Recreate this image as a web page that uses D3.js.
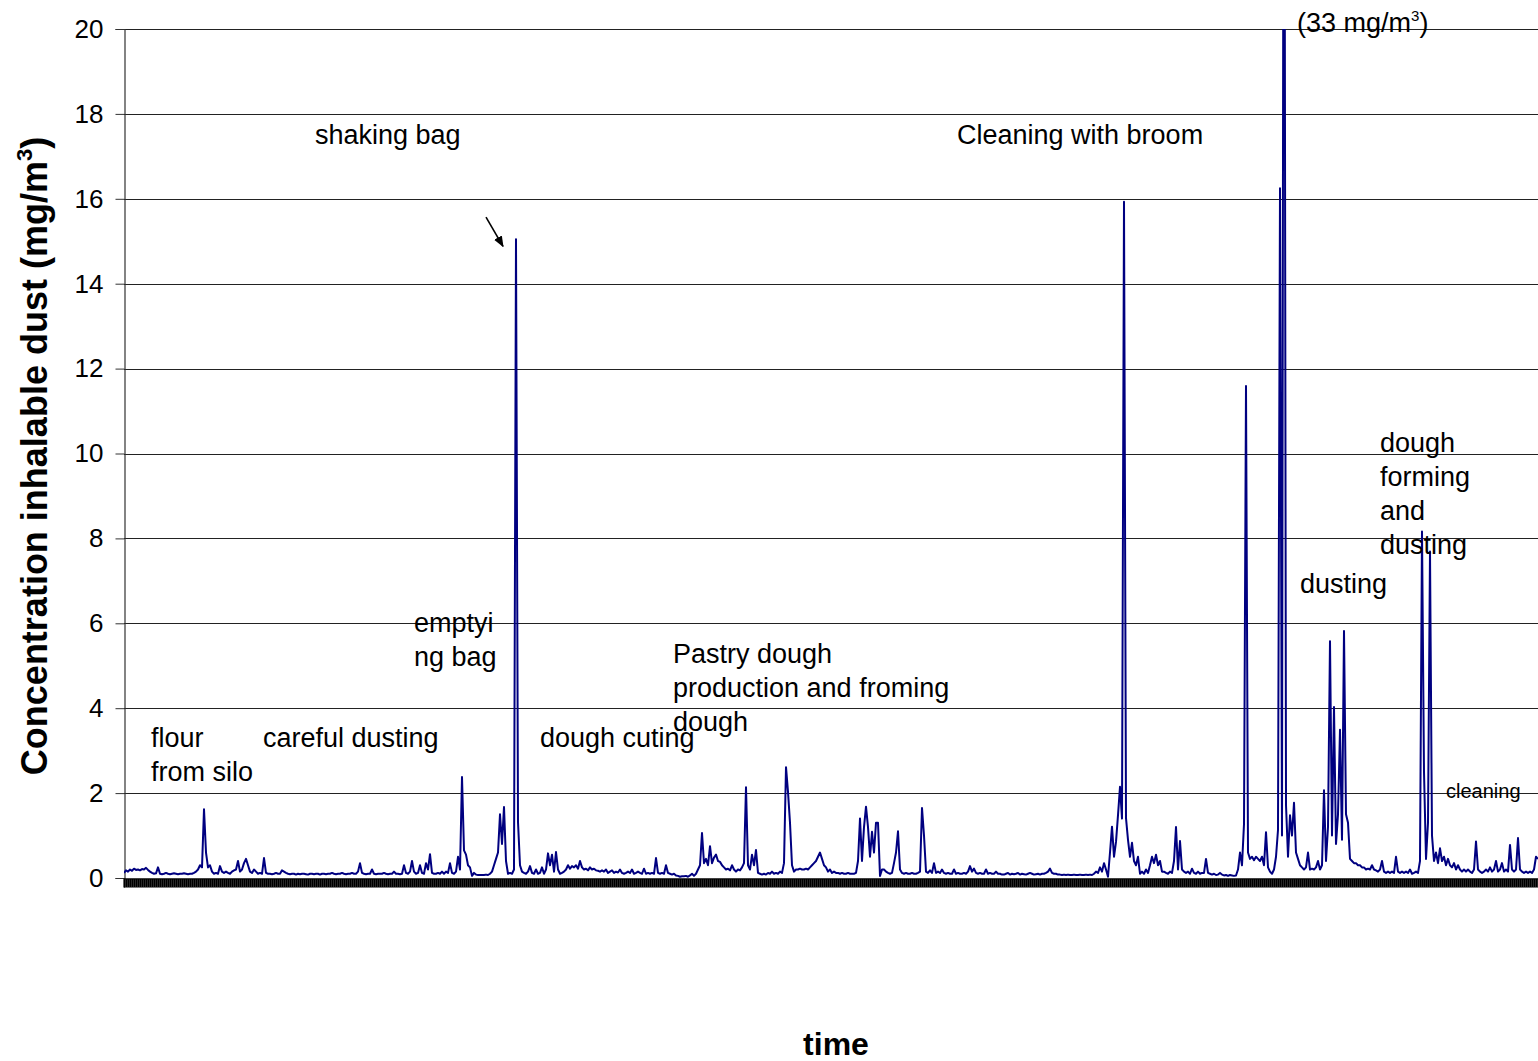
<!DOCTYPE html>
<html>
<head>
<meta charset="utf-8">
<script src="https://cdn.jsdelivr.net/npm/d3@7"></script>
<style>
  html, body { margin: 0; padding: 0; background: #fff; }
  svg { display: block; font-family: "Liberation Sans", Arial, sans-serif; }
  .grid line { stroke: #222; stroke-width: 1; shape-rendering: crispEdges; }
  .note { font-size: 27px; fill: #000; }
</style>
</head>
<body>
<div id="chart"></div>
<script>
// Inhalable dust readings, one sample per time step
const siloPart = [
  0.12,0.18,0.15,0.2,0.17,0.22,0.19,0.2,0.18,0.21,0.2,0.24,0.19,0.15,0.12,0.1,0.11,0.25,0.1,0.09,
  0.1,0.12,0.1,0.09,0.1,0.11,0.1,0.09,0.1,0.1,0.11,0.1,0.09,0.1,0.1,0.12,0.15,0.2,0.3,0.25,
  1.62,0.6,0.25,0.3,0.15,0.1,0.12,0.1,0.28,0.15,0.12,0.15,0.12,0.1,0.15,0.18,0.2,0.4,0.15,0.2,
  0.35,0.45,0.3,0.15,0.12,0.2,0.15,0.1,0.12,0.1,0.47,0.12,0.1,0.1,0.09,0.1,0.12,0.1,0.1,0.18,
  0.15,0.12,0.1,0.09,0.1,0.1,0.08,0.1,0.09,0.1,0.1,0.09,0.08,0.1,0.1,0.09,0.1,0.1,0.08,0.1
];
const dustingPart = [
  0.1,0.09,0.1,0.1,0.12,0.1,0.09,0.1,0.1,0.12,0.1,0.09,0.1,0.1,0.12,0.1,0.1,0.15,0.35,0.12,
  0.1,0.09,0.1,0.1,0.2,0.1,0.09,0.1,0.1,0.1,0.12,0.1,0.09,0.1,0.1,0.15,0.1,0.1,0.09,0.1,
  0.3,0.12,0.1,0.15,0.4,0.15,0.1,0.12,0.3,0.12,0.1,0.35,0.2,0.56,0.12,0.1,0.1,0.12,0.1,0.15,
  0.1,0.15,0.12,0.35,0.12,0.1,0.15,0.5,0.2,2.38,0.65,0.55,0.3,0.25,0.05,0.12,0.08,0.07,0.07,0.07
];
const bagPart = [
  0.07,0.08,0.07,0.1,0.15,0.3,0.45,0.6,1.5,0.8,1.67,0.4,0.1,0.12,0.1,0.2,15.05,1.32,0.3,0.15,
  0.12,0.1,0.15,0.28,0.12,0.1,0.2,0.1,0.12,0.25,0.1,0.2,0.58,0.3,0.55,0.15,0.61,0.2,0.1,0.12,
  0.15,0.2,0.3,0.22,0.28,0.25,0.3,0.22,0.4,0.25,0.2,0.22,0.18,0.25,0.2,0.22,0.18,0.17,0.15,0.18,
  0.15,0.2,0.12,0.15,0.18,0.12,0.15,0.13,0.2,0.12,0.1,0.12,0.15,0.12,0.2,0.1,0.12,0.15,0.12,0.1
];
const pastryPart = [
  0.22,0.1,0.12,0.1,0.12,0.1,0.47,0.12,0.1,0.12,0.1,0.3,0.12,0.1,0.08,0.1,0.06,0.05,0.03,0.04,
  0.04,0.05,0.03,0.06,0.1,0.05,0.1,0.2,0.3,1.06,0.35,0.45,0.3,0.75,0.35,0.48,0.55,0.4,0.38,0.3,
  0.25,0.2,0.22,0.18,0.3,0.2,0.15,0.2,0.18,0.25,0.35,2.14,0.3,0.2,0.55,0.3,0.66,0.12,0.1,0.08,
  0.1,0.08,0.12,0.1,0.15,0.1,0.12,0.1,0.15,0.12,0.35,2.61,2.03,1.3,0.3,0.15,0.2,0.2,0.22,0.2,
  0.2,0.22,0.2,0.25,0.3,0.35,0.4,0.5,0.6,0.45,0.3,0.25,0.15,0.2,0.12,0.15,0.12,0.12,0.1,0.12,
  0.1,0.1,0.12,0.1,0.1,0.1,0.12,0.4,1.4,0.4,1.2,1.68,1.2,0.5,1.09,0.6,1.3,1.3,0.05,0.2,
  0.2,0.15,0.12,0.1,0.12,0.35,0.6,1.1,0.2,0.12,0.1,0.12,0.1,0.1,0.12,0.1,0.1,0.12,0.15,1.65
];
const broomPart = [
  1.0,0.15,0.12,0.18,0.12,0.35,0.12,0.15,0.12,0.2,0.12,0.1,0.12,0.1,0.1,0.2,0.1,0.12,0.1,0.1,
  0.12,0.1,0.15,0.28,0.15,0.22,0.12,0.1,0.12,0.1,0.1,0.2,0.1,0.12,0.1,0.1,0.15,0.1,0.1,0.08,
  0.08,0.1,0.12,0.08,0.1,0.09,0.1,0.12,0.08,0.1,0.09,0.08,0.1,0.12,0.1,0.08,0.09,0.1,0.08,0.1,
  0.1,0.12,0.15,0.22,0.12,0.1,0.1,0.08,0.08,0.07,0.08,0.07,0.08,0.07,0.07,0.08,0.07,0.07,0.08,0.07,
  0.07,0.08,0.07,0.08,0.07,0.1,0.15,0.12,0.25,0.15,0.35,0.2,0.03,0.6,1.21,0.5,0.85,1.48,2.15,1.4,
  15.93,1.41,0.9,0.5,0.83,0.4,0.3,0.5,0.1,0.15,0.1,0.2,0.12,0.3,0.5,0.35,0.55,0.3,0.4,0.15,
  0.15,0.12,0.1,0.15,0.12,0.4,1.2,0.2,0.87,0.2,0.15,0.12,0.15,0.1,0.22,0.12,0.1,0.15,0.1,0.12
];
const formingPart = [
  0.12,0.45,0.12,0.1,0.08,0.1,0.07,0.08,0.12,0.08,0.06,0.07,0.05,0.07,0.06,0.05,0.06,0.2,0.6,0.3,
  1.27,11.59,0.6,0.45,0.5,0.42,0.5,0.45,0.4,0.5,0.3,1.08,0.25,0.15,0.1,0.2,0.5,1.13,16.25,1.0,
  33,1.72,0.5,1.48,1.0,1.77,0.6,0.45,0.3,0.25,0.2,0.25,0.6,0.2,0.22,0.2,0.25,0.4,0.2,0.3,
  2.07,0.4,1.2,5.58,1.0,4.03,0.8,1.5,3.49,0.9,5.82,1.5,1.3,0.45,0.4,0.35,0.35,0.3,0.3,0.25,
  0.25,0.2,0.22,0.2,0.3,0.2,0.18,0.15,0.2,0.4,0.15,0.12,0.15,0.12,0.15,0.12,0.5,0.15,0.12,0.15
];
const cleaningPart = [
  0.12,0.15,0.12,0.2,0.1,0.12,0.15,0.12,0.4,8.16,2.5,0.45,1.3,7.69,1.0,0.4,0.6,0.35,0.7,0.4,
  0.5,0.3,0.45,0.3,0.25,0.35,0.2,0.3,0.2,0.15,0.2,0.15,0.2,0.15,0.12,0.2,0.86,0.2,0.15,0.12,
  0.15,0.2,0.15,0.25,0.15,0.2,0.4,0.15,0.2,0.35,0.15,0.2,0.15,0.78,0.2,0.15,0.2,0.94,0.2,0.15,
  0.12,0.15,0.12,0.15,0.12,0.2,0.5,0.45
];

const conc = [].concat(siloPart, dustingPart, bagPart, pastryPart, broomPart, formingPart, cleaningPart);

const yTicks = [0, 2, 4, 6, 8, 10, 12, 14, 16, 18, 20];

// activity notes, anchored in data space (sample index, concentration)
const notes = [
  { lines: ['shaking bag'], i: 95.5, v: 17.3 },
  { lines: ['Cleaning with broom'], i: 416.5, v: 17.3 },
  { lines: ['emptyi', 'ng bag'], i: 145, v: 5.8 },
  { lines: ['Pastry dough', 'production and froming', 'dough'], i: 274.5, v: 5.07 },
  { lines: ['flour', 'from silo'], i: 13.5, v: 3.09 },
  { lines: ['careful dusting'], i: 69.5, v: 3.09 },
  { lines: ['dough cuting'], i: 208, v: 3.09 },
  { lines: ['dough', 'forming', 'and', 'dusting'], i: 628, v: 10.03 },
  { lines: ['dusting'], i: 588, v: 6.71 },
  { lines: ['cleaning'], i: 661, v: 1.89, small: true }
];

const width = 1538, height = 1061;
const margin = { top: 29, right: 0, bottom: 183, left: 124 };

const svg = d3.select('#chart').append('svg')
  .attr('width', width)
  .attr('height', height);

const x = d3.scaleLinear()
  .domain([0, conc.length - 1])
  .range([margin.left, width - margin.right]);

const y = d3.scaleLinear()
  .domain([0, 20])
  .range([height - margin.bottom, margin.top]);

// gridlines
svg.append('g')
  .attr('class', 'grid')
  .selectAll('line')
  .data(yTicks.filter(d => d > 0))
  .enter()
  .append('line')
  .attr('x1', margin.left)
  .attr('x2', width)
  .attr('y1', d => Math.round(y(d)) + 0.5)
  .attr('y2', d => Math.round(y(d)) + 0.5);

// y axis
const yAxis = svg.append('g')
  .attr('transform', `translate(${margin.left + 0.5},0)`)
  .call(d3.axisLeft(y).tickValues(yTicks).tickSize(9).tickPadding(12));
yAxis.select('.domain').attr('stroke', '#333').attr('stroke-width', 1.2);
yAxis.selectAll('.tick line').attr('stroke', '#333');
yAxis.selectAll('.tick text')
  .attr('font-size', 26)
  .attr('font-family', '"Liberation Sans", Arial, sans-serif')
  .attr('fill', '#000');

// the trace
svg.append('clipPath').attr('id', 'plot-clip')
  .append('rect')
  .attr('x', margin.left)
  .attr('y', margin.top)
  .attr('width', width - margin.left)
  .attr('height', height - margin.bottom - margin.top + 2);

const line = d3.line()
  .x((d, i) => x(i))
  .y(d => y(d));

svg.append('path')
  .datum(conc)
  .attr('clip-path', 'url(#plot-clip)')
  .attr('fill', 'none')
  .attr('stroke', '#000080')
  .attr('stroke-width', 2)
  .attr('stroke-linejoin', 'round')
  .attr('d', line);

// x axis: one tick per sample, which gives the dense black band
const xAxis = svg.append('g')
  .attr('transform', `translate(0,${height - margin.bottom + 0.5})`)
  .call(d3.axisBottom(x).tickValues(d3.range(0, conc.length)).tickSize(9).tickFormat(''));
xAxis.select('.domain').attr('stroke', '#000');
xAxis.selectAll('.tick line').attr('stroke', '#000').attr('stroke-width', 2.2);

// notes
const noteG = svg.append('g');
notes.forEach(n => {
  const t = noteG.append('text')
    .attr('class', 'note')
    .attr('x', x(n.i))
    .attr('y', y(n.v))
    .style('font-size', n.small ? '20px' : null);
  n.lines.forEach((s, k) => {
    t.append('tspan')
      .attr('x', x(n.i))
      .attr('dy', k === 0 ? 0 : 34)
      .text(s);
  });
});

// off-scale peak label
const peak = noteG.append('text')
  .attr('class', 'note')
  .attr('x', x(586.5))
  .attr('y', y(19.93));
peak.append('tspan').text('(33 mg/m');
peak.append('tspan').attr('font-size', 15).attr('dy', -11).text('3');
peak.append('tspan').attr('dy', 11).text(')');

// arrow pointing at the bag shaking peak
svg.append('defs').append('marker')
  .attr('id', 'arrowhead')
  .attr('viewBox', '0 0 10 10')
  .attr('refX', 9).attr('refY', 5)
  .attr('markerWidth', 7).attr('markerHeight', 7)
  .attr('orient', 'auto')
  .append('path')
  .attr('d', 'M0,1 L10,5 L0,9 Z')
  .attr('fill', '#000');

svg.append('line')
  .attr('x1', x(181)).attr('y1', y(15.57))
  .attr('x2', x(189.5)).attr('y2', y(14.88))
  .attr('stroke', '#000')
  .attr('stroke-width', 1.6)
  .attr('marker-end', 'url(#arrowhead)');

// axis titles
const yTitle = svg.append('text')
  .attr('transform', `translate(47,${(140 + 772) / 2}) rotate(-90)`)
  .attr('text-anchor', 'middle')
  .attr('font-size', 36)
  .attr('font-weight', 'bold')
  .attr('fill', '#000');
yTitle.append('tspan').text('Concentration inhalable dust (mg/m');
yTitle.append('tspan').attr('font-size', 22).attr('dy', -15).text('3');
yTitle.append('tspan').attr('dy', 15).text(')');

svg.append('text')
  .attr('x', 836)
  .attr('y', 1055)
  .attr('text-anchor', 'middle')
  .attr('font-size', 32)
  .attr('font-weight', 'bold')
  .attr('fill', '#000')
  .text('time');
</script>
</body>
</html>
